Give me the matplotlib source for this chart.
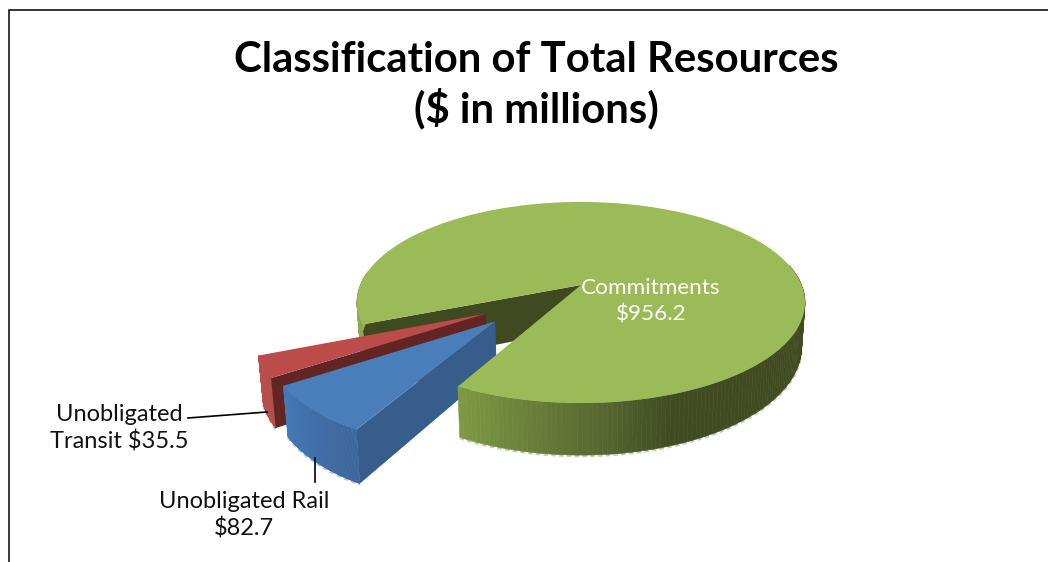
import numpy as np
import matplotlib
matplotlib.use("Agg")
import matplotlib.pyplot as plt

# ---- data ----
categories = ["Commitments", "Unobligated Transit", "Unobligated Rail"]
values = [956.2, 35.5, 82.7]
label_lines = ["Commitments\n$956.2", "Unobligated\nTransit $35.5", "Unobligated Rail\n$82.7"]
title_text = "Classification of Total Resources\n($ in millions)"

# ---- view ----
W, H = 1048, 562
CX, CY, RX, RY, K, DEPTH = 581, 285, 220.6, 97.5, 0.174, 43
LOW_X = 0.985
START = 241.8
offsets = [(0, 0), (-0.41, -0.28), (-0.365, -0.35)]
radii = [1.0, 0.96, 0.94]
top_cols = ["#9bbb59", "#bc4c49", "#4a7ebb"]
cut_cols = ["#3f4a20", "#632523", "#365d8c"]


def proj(u, v, low=False):
    u, v = np.asarray(u, float), np.asarray(v, float)
    s = 1 / (1 + K * v)
    x = CX + RX * u * s * (LOW_X if low else 1)
    return x, CY - RY * v * s + (DEPTH * s if low else 0)


# slice angles from values (counter-clockwise, starting with Commitments)
total = sum(values)
sweeps = [v / total * 360 for v in values]
a0 = START
spans = []
for sw in sweeps:
    spans.append((a0 % 360 if a0 >= 360 else a0, (a0 % 360 if a0 >= 360 else a0) + sw))
    a0 += sw
spans[0] = (START, START + sweeps[0])


def rim(i, t):
    r = np.radians(t)
    return offsets[i][0] + radii[i] * np.cos(r), offsets[i][1] + radii[i] * np.sin(r)


fig = plt.figure(figsize=(W / 100, H / 100), dpi=100, facecolor="white")
ax = fig.add_axes([0, 0, 1, 1])
ax.set_xlim(0, W)
ax.set_ylim(H, 0)
ax.axis("off")


def top_face(i, z):
    t = np.linspace(*spans[i], 200)
    u, v = rim(i, t)
    ou, ov = offsets[i]
    x, y = proj(np.r_[ou, u], np.r_[ov, v])
    ax.fill(x, y, color=top_cols[i], lw=0, zorder=z)


def cut_face(i, t, col, z):
    ou, ov = offsets[i]
    u, v = rim(i, t)
    x1, y1 = proj([ou, u], [ov, v])
    x2, y2 = proj([u, ou], [v, ov], low=True)
    ax.fill(np.r_[x1, x2], np.r_[y1, y2], color=col, lw=0, zorder=z)


def wall(i, t0, t1, stops, cols, z, halo=None):
    t = np.linspace(t0, t1, 120)
    rgb = np.array([matplotlib.colors.to_rgb(c) for c in cols])
    for a, b in zip(t[:-1], t[1:]):
        ua, va = rim(i, a)
        ub, vb = rim(i, b)
        xa, ya = proj(ua, va)
        xb, yb = proj(ub, vb)
        xc, yc = proj(ub, vb, low=True)
        xd, yd = proj(ua, va, low=True)
        m = (a + b) / 2
        col = [np.interp(m, stops, rgb[:, k]) for k in range(3)]
        ax.fill([xa, xb, xc, xd], [ya, yb, yc, yd], color=col, lw=0.4, ec=col, zorder=z)
    if halo:
        xb, yb = proj(*rim(i, t), low=True)
        ax.plot(xb, yb + 1, color=halo, lw=1.6, ls=(0, (2, 1.5)), zorder=z - 0.1)


# Commitments: back cut face
cut_face(0, spans[0][1], cut_cols[0], 1)
# Commitments: small strip of the left wall
wall(0, 172, spans[0][1] - 360, [172, 203], ["#93b154", "#8aa64f"], 1.5)

# Unobligated Transit
wall(1, spans[1][0], spans[1][1], [spans[1][0], spans[1][1]], ["#b94f4c", "#b2504d"], 2, halo="#e3b5b3")
cut_face(1, spans[1][1], cut_cols[1], 3)
top_face(1, 4)

# Unobligated Rail
wall(2, spans[2][0], spans[2][1], [spans[2][0], spans[2][1]], ["#4679b8", "#3b659b"], 5, halo="#b4c6dc")
cut_face(2, spans[2][1], cut_cols[2], 6)
top_face(2, 7)

# Commitments: front wall and top
wall(0, spans[0][0], 372, [241.8, 275, 290, 372],
     ["#7f9a45", "#55672f", "#404b21", "#404b21"], 8, halo="#c3ccae")
top_face(0, 9)

# frame
ax.plot([8.5, 8.5, W], [H, 9.5, 9.5], color="black", lw=1.1, zorder=10, solid_joinstyle="miter")

# leader lines
ax.plot([188, 267], [418, 412], color="black", lw=1.2, zorder=10)
ax.plot([315, 315], [458, 482], color="black", lw=1.2, zorder=10)

# text
fam = ["Lato", "DejaVu Sans"]
ax.text(536, 85.5, title_text, ha="center", va="center", fontsize=30.2, fontweight="bold",
        family=fam, color="black", linespacing=1.256, zorder=11)
ax.text(651, 301, label_lines[0], ha="center", va="center", fontsize=16.2, family=fam,
        color="white", linespacing=1.43, zorder=11)
ax.text(119, 428, label_lines[1], ha="center", va="center", fontsize=17, family=fam,
        color="#111111", linespacing=1.3, zorder=11)
ax.text(244, 515, label_lines[2], ha="center", va="center", fontsize=17, family=fam,
        color="#111111", linespacing=1.3, zorder=11)

fig.savefig("out.png", dpi=100)
